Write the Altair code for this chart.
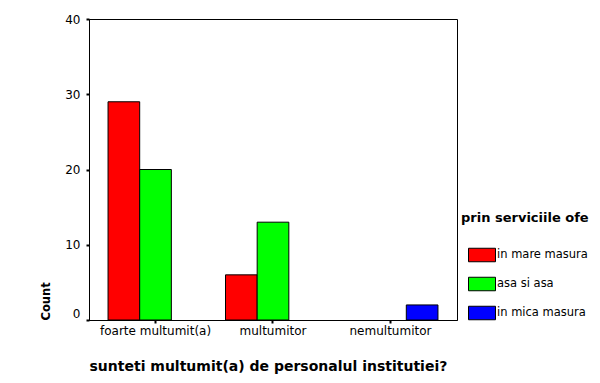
import altair as alt
import pandas as pd

categories = ["foarte multumit(a)", "multumitor", "nemultumitor"]
series = ["in mare masura", "asa si asa", "in mica masura"]
in_mare_masura = [29, 6, 0]
asa_si_asa = [20, 13, 0]
in_mica_masura = [0, 0, 2]
colors = ["#ff0000", "#00ff00", "#0000ff"]

rows = []
for s, vals in zip(series, [in_mare_masura, asa_si_asa, in_mica_masura]):
    for c, v in zip(categories, vals):
        if v > 0:
            rows.append({"cat": c, "series": s, "count": v})
df = pd.DataFrame(rows)

FONT = "DejaVu Sans"

chart = alt.Chart(df).mark_bar(stroke="black", strokeWidth=1).encode(
    x=alt.X(
        "cat:N",
        sort=categories,
        scale=alt.Scale(domain=categories, paddingInner=0.1915, paddingOuter=0.162),
        axis=alt.Axis(
            title="sunteti multumit(a) de personalul institutiei?",
            titleAnchor="start",
            titleFont=FONT, titleFontSize=14, titleFontWeight="bold",
            titlePadding=23, titleColor="black",
            labelAngle=0, labelFont=FONT, labelFontSize=12, labelColor="black",
            labelPadding=2, tickSize=3, tickWidth=2, tickColor="black",
            domainColor="black", domainWidth=1,
        ),
    ),
    xOffset=alt.XOffset(
        "series:N", sort=series,
        scale=alt.Scale(domain=series, paddingInner=0, paddingOuter=0),
    ),
    y=alt.Y(
        "count:Q",
        scale=alt.Scale(domain=[0, 40]),
        axis=alt.Axis(
            title="Count", titleAnchor="start",
            titleFont=FONT, titleFontSize=11.5, titleFontWeight="bold",
            titleColor="black", titlePadding=13,
            values=[0, 10, 20, 30, 40], grid=False,
            labelFont=FONT, labelFontSize=12, labelColor="black",
            labelPadding=6, tickSize=3, tickWidth=2, tickColor="black",
            domainColor="black", domainWidth=1,
            labelBaseline={"expr": "datum.value == 0 ? 'bottom' : 'middle'"},
        ),
    ),
    color=alt.Color(
        "series:N",
        sort=series,
        scale=alt.Scale(domain=series, range=colors),
        legend=alt.Legend(
            title="prin serviciile ofe",
            orient="none", legendX=372, legendY=193,
            titleFont=FONT, titleFontSize=13, titleFontWeight="bold",
            titleColor="black", titlePadding=16,
            labelFont=FONT, labelFontSize=11.5, labelColor="black",
            symbolType="M-1,-0.5L1,-0.5L1,0.5L-1,0.5Z",
            symbolSize=729, symbolStrokeColor="black", symbolStrokeWidth=1,
            symbolOffset=7, labelOffset=1, rowPadding=6,
        ),
    ),
).properties(
    width=368, height=301,
    padding={"left": 81, "top": 11, "right": 135, "bottom": 55},
    autosize="none",
).configure_view(stroke="black", strokeWidth=1)

chart.save("out.html", embed_options={"renderer": "svg", "actions": False})
